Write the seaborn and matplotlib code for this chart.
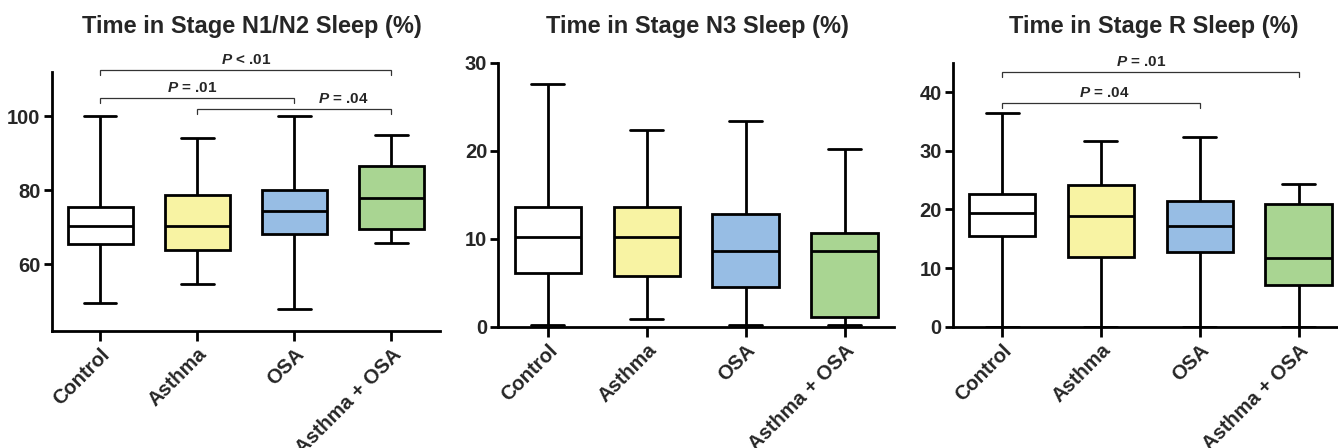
import matplotlib
matplotlib.use("Agg")
import matplotlib.pyplot as plt
import seaborn as sns
import pandas as pd

# ---- data (five-number summaries: min, Q1, median, Q3, max)
groups = ["Control", "Asthma", "OSA", "Asthma + OSA"]
colors = ["#FFFFFF", "#F8F3A3", "#97BDE4", "#A9D592"]

n1n2 = {
    "Control":      [49.5, 65.5, 70.3, 75.5, 100.0],
    "Asthma":       [54.5, 63.7, 70.2, 78.8, 94.2],
    "OSA":          [47.8, 68.2, 74.3, 80.0, 100.0],
    "Asthma + OSA": [65.8, 69.5, 77.9, 86.4, 94.8],
}
n3 = {
    "Control":      [0.2, 6.1, 10.2, 13.6, 27.6],
    "Asthma":       [0.85, 5.8, 10.2, 13.6, 22.35],
    "OSA":          [0.2, 4.5, 8.6, 12.8, 23.4],
    "Asthma + OSA": [0.2, 1.07, 8.65, 10.7, 20.2],
}
stage_r = {
    "Control":      [0.0, 15.5, 19.4, 22.65, 36.4],
    "Asthma":       [0.0, 11.8, 18.8, 24.1, 31.6],
    "OSA":          [0.0, 12.8, 17.1, 21.4, 32.4],
    "Asthma + OSA": [0.0, 7.07, 11.7, 20.9, 24.35],
}

titles = ["Time in Stage N1/N2 Sleep (%)", "Time in Stage N3 Sleep (%)", "Time in Stage R Sleep (%)"]
ylims = [(42, 112), (0, 30), (0, 45)]
yticks = [[60, 80, 100], [0, 10, 20, 30], [0, 10, 20, 30, 40]]

# brackets: (x1, x2, y, text, text_x, text_y)
brackets = [
    [(0, 3, 112.5, "$P$ < .01", 1.5, 114.2),
     (0, 2, 104.9, "$P$ = .01", 0.95, 106.6),
     (1, 3, 102.0, "$P$ = .04", 2.5, 103.5)],
    [],
    [(0, 3, 43.4, "$P$ = .01", 1.41, 44.5),
     (0, 2, 38.2, "$P$ = .04", 1.03, 39.1)],
]
drops = [1.35, 0, 0.85]

sns.set_theme(style="ticks")
plt.rcParams["font.family"] = ["Liberation Sans", "DejaVu Sans"]
plt.rcParams["font.weight"] = "bold"
plt.rcParams["mathtext.fontset"] = "custom"
plt.rcParams["mathtext.it"] = "Liberation Sans:italic:bold"
plt.rcParams["mathtext.rm"] = "Liberation Sans:bold"

W, H = 1338, 448
fig = plt.figure(figsize=(W / 100, H / 100), dpi=100)

# axes rectangles in pixels: left, right, top, bottom
rects = [(51.7, 440.0, 71.7, 330.7), (498.3, 894.0, 62.7, 326.7), (952.7, 1348.0, 62.7, 326.7)]
title_x = [252, 697, 1154]

datasets = [n1n2, n3, stage_r]
for i, (data, (l, r, t, b)) in enumerate(zip(datasets, rects)):
    ax = fig.add_axes([l / W, 1 - b / H, (r - l) / W, (b - t) / H])
    rows = []
    for g in groups:
        for v in data[g]:
            rows.append({"group": g, "value": v})
    df = pd.DataFrame(rows)
    sns.boxplot(data=df, x="group", y="value", hue="group", order=groups, hue_order=groups,
                palette=colors, dodge=False, legend=False, width=0.67, whis=(0, 100),
                linecolor="black", linewidth=2.0, saturation=1, ax=ax, showfliers=False)
    ax.set_xlim(-0.5, 3.5)
    ax.set_ylim(*ylims[i])
    ax.set_yticks(yticks[i])
    ax.set_xlabel("")
    ax.set_ylabel("")
    for s in ["top", "right"]:
        ax.spines[s].set_visible(False)
    for s in ["left", "bottom"]:
        ax.spines[s].set_linewidth(2.0)
        ax.spines[s].set_color("black")
    ax.tick_params(axis="both", length=6, width=2.0, color="black", labelsize=14.5, pad=2)
    ax.tick_params(axis="x", length=7, pad=3)
    ax.set_xticks(range(len(groups)))
    ax.set_xticklabels(groups, rotation=45, ha="right", rotation_mode="anchor",
                       fontweight="bold", fontsize=14.5)
    for lab in ax.get_yticklabels():
        lab.set_fontweight("bold")
    ax.set_facecolor("white")

    d = drops[i]
    for (x1, x2, y, txt, tx, ty) in brackets[i]:
        ax.plot([x1, x1, x2, x2], [y - d, y, y, y - d], color="#333333", lw=0.9,
                clip_on=False, solid_joinstyle="miter")
        ax.text(tx, ty, txt, ha="center", va="baseline", fontsize=11, fontweight="bold",
                clip_on=False)

    fig.text(title_x[i] / W, 1 - 33 / H, titles[i], ha="center", va="baseline",
             fontsize=17, fontweight="bold")

fig.savefig("out.png", dpi=100, facecolor="white")
